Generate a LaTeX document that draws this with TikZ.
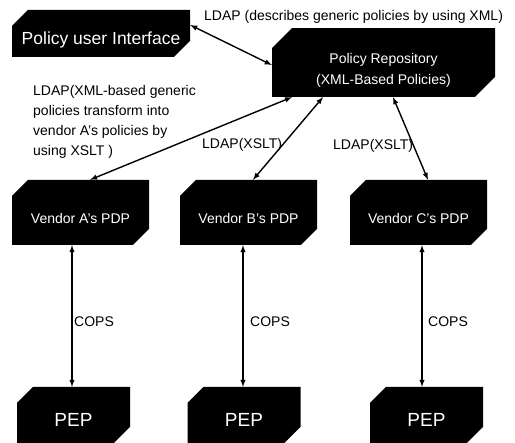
\documentclass[tikz,border=0pt]{standalone}
\usepackage{fontspec}
\setmainfont{Liberation Sans}
\usetikzlibrary{arrows}
\usetikzlibrary{shapes.misc}

\begin{document}
\begin{tikzpicture}[x=1pt,y=-1pt,
  pbox/.style={chamfered rectangle, chamfered rectangle corners={north west,south east},
    chamfered rectangle sep=8pt, fill=black, text=white, inner sep=0pt, text depth=0pt},
  pdp/.style={pbox, minimum width=137pt, minimum height=65pt, text height=23pt,
    font=\fontsize{14}{20}\selectfont},
  pep/.style={pbox, minimum width=113pt, minimum height=56pt, text height=24pt,
    font=\fontsize{19}{20}\selectfont},
  lbl/.style={inner sep=0pt, font=\fontsize{14}{20}\selectfont},
  link/.style={latex-latex, line width=1.4pt}]
\useasboundingbox (0,0) rectangle (515,443);

\node[pbox, minimum width=178pt, minimum height=47pt, text height=22pt,
  font=\fontsize{17.5}{20}\selectfont] (ui) at (101,33.5) {Policy user Interface};
\node[pbox, chamfered rectangle sep=10pt, minimum width=223pt, minimum height=65pt,
  text depth=, align=center, font=\fontsize{14}{21}\selectfont] (repo) at (383.5,62.5)
  {Policy Repository\rule{0pt}{25pt}\\(XML-Based Policies)};

%PDPs, PEPs and COPS
\foreach \n/\cx/\px/\lx/\tx in {A/80.5/73.5/72/74, B/248.5/244/243/250, C/418.5/426.5/422/428}{
  \node[pdp] (pdp\n) at (\cx,212.5) {Vendor \n's PDP};
  \node[pep] (pep\n) at (\px,415) {PEP};
  \coordinate (cops\n) at (\lx,316);
  \draw[link] (pdp\n.south -| cops\n) -- (pep\n.north -| cops\n);
  \node[lbl, anchor=base west] (copslbl\n) at (\tx,327) {COPS};
}

%LDAP
\draw[link] ([yshift=8.5pt]ui.east) -- ([yshift=-2.5pt]repo.west);
\draw[link] ([xshift=9.5pt]pdpA.north) -- ([xshift=-91.5pt]repo.south);
\draw[link] ([xshift=4.5pt]pdpB.north) -- ([xshift=-60.5pt]repo.south);
\draw[link] ([xshift=9.5pt]pdpC.north) -- ([xshift=9.5pt]repo.south);

\node[lbl, anchor=base west] (ldapui) at (204,21) {LDAP (describes generic policies by using XML)};
\node[lbl, anchor=north west, align=left] (ldapa) at (33,84.8)
  {LDAP(XML-based generic\\policies transform into\\vendor A's policies by\\using XSLT )};
\node[lbl, anchor=base west] (ldapb) at (202,149) {LDAP(XSLT)};
\node[lbl, anchor=base west] (ldapc) at (333,150) {LDAP(XSLT)};
\end{tikzpicture}
\end{document}
